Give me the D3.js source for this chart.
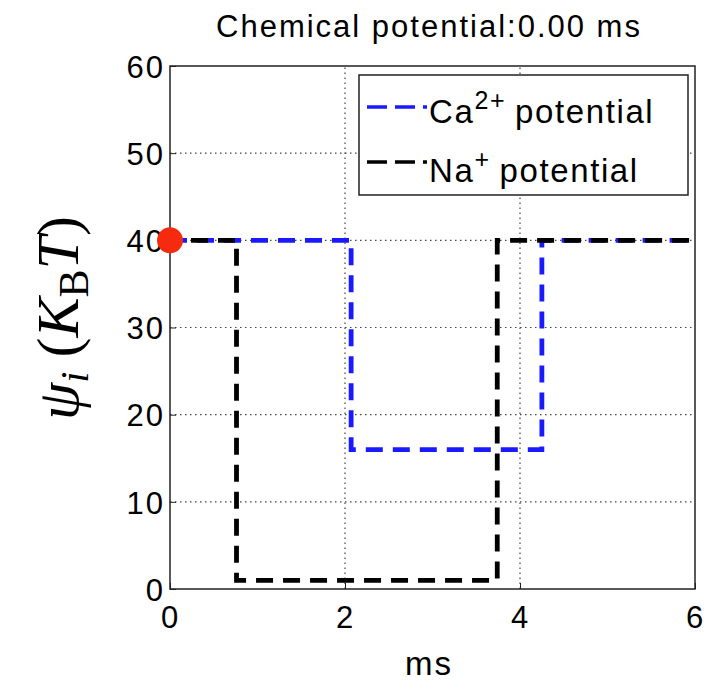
<!DOCTYPE html>
<html>
<head>
<meta charset="utf-8">
<script src="https://cdn.jsdelivr.net/npm/d3@7"></script>
<style>
  body { margin: 0; background: #fff; }
  svg text { font-family: "Liberation Sans", Arial, sans-serif; }
</style>
</head>
<body>
<div id="chart"></div>
<script>
// data
const caX = [0, 2.07, 2.07, 4.25, 4.25, 6];
const caY = [40, 40, 16, 16, 40, 40];
const naX = [0, 0.76, 0.76, 3.74, 3.74, 6];
const naY = [40, 40, 1, 1, 40, 40];
const xTicks = [0, 2, 4, 6];
const yTicks = [0, 10, 20, 30, 40, 50, 60];
const markerX = [0];
const markerY = [40];

const width = 706, height = 682;
const m = { left: 170, right: 11, top: 66, bottom: 93 };

const svg = d3.select("#chart").append("svg")
  .attr("width", width).attr("height", height);

const x = d3.scaleLinear().domain([0, 6]).range([m.left, width - m.right]);
const y = d3.scaleLinear().domain([0, 60]).range([height - m.bottom, m.top]);

// grid
svg.append("g").selectAll("line").data(xTicks.slice(1, -1)).enter().append("line")
  .attr("x1", d => x(d)).attr("x2", d => x(d))
  .attr("y1", y(0)).attr("y2", y(60))
  .attr("stroke", "#444").attr("stroke-width", 1.2).attr("stroke-dasharray", "1.5,3.5");
svg.append("g").selectAll("line").data(yTicks.slice(1, -1)).enter().append("line")
  .attr("x1", x(0)).attr("x2", x(6))
  .attr("y1", d => y(d)).attr("y2", d => y(d))
  .attr("stroke", "#444").attr("stroke-width", 1.2).attr("stroke-dasharray", "1.5,3.5");

// axes
const xAxis = svg.append("g").attr("transform", "translate(0," + y(0) + ")")
  .call(d3.axisBottom(x).tickValues(xTicks).tickFormat(d3.format("d")).tickSize(-6));
const yAxis = svg.append("g").attr("transform", "translate(" + x(0) + ",0)")
  .call(d3.axisLeft(y).tickValues(yTicks).tickFormat(d3.format("d")).tickSize(-6).tickPadding(5));
[xAxis, yAxis].forEach(a => {
  a.select(".domain").remove();
  a.selectAll("line").attr("stroke", "#222");
  a.selectAll("text").attr("font-size", 31).attr("fill", "#000")
    .attr("letter-spacing", 2)
    .style("font-family", "Liberation Sans, Arial, sans-serif");
});
xAxis.selectAll("text").attr("y", 39).attr("dy", 0);
yAxis.selectAll("text").attr("dy", "0.36em");

// box
svg.append("rect")
  .attr("x", x(0)).attr("y", y(60))
  .attr("width", x(6) - x(0)).attr("height", y(0) - y(60))
  .attr("fill", "none").attr("stroke", "#222").attr("stroke-width", 1.5);

// lines
const line = d3.line().x(d => x(d[0])).y(d => y(d[1]));
svg.append("path").datum(d3.zip(caX, caY)).attr("d", line)
  .attr("fill", "none").attr("stroke", "#1a1aff").attr("stroke-width", 4.8)
  .attr("stroke-dasharray", "17,10");
svg.append("path").datum(d3.zip(naX, naY)).attr("d", line)
  .attr("fill", "none").attr("stroke", "#000").attr("stroke-width", 4.8)
  .attr("stroke-dasharray", "17,10").attr("stroke-dashoffset", 6);

// marker
svg.append("g").selectAll("circle").data(d3.zip(markerX, markerY)).enter().append("circle")
  .attr("cx", d => x(d[0])).attr("cy", d => y(d[1])).attr("r", 13)
  .attr("fill", "#f52a0f");

// legend
const lg = svg.append("g");
lg.append("rect").attr("x", 359).attr("y", 75).attr("width", 329).attr("height", 120)
  .attr("fill", "#fff").attr("stroke", "#222").attr("stroke-width", 1.5);
const items = [
  { c: "#1a1aff", name: "Ca", sup: "2+", yy: 107, base: 123 },
  { c: "#000", name: "Na", sup: "+", yy: 162, base: 182 }
];
items.forEach(it => {
  lg.append("line").attr("x1", 367).attr("x2", 427).attr("y1", it.yy).attr("y2", it.yy)
    .attr("stroke", it.c).attr("stroke-width", 3.5).attr("stroke-dasharray", "20,8");
  const t = lg.append("text").attr("x", 429).attr("y", it.base).attr("font-size", 33)
    .attr("letter-spacing", 1.6).attr("fill", "#000");
  t.append("tspan").text(it.name);
  t.append("tspan").attr("dy", -14).attr("font-size", 25).text(it.sup);
  t.append("tspan").attr("dy", 14).attr("dx", 9).text("potential");
});

// title and labels
svg.append("text").attr("x", 429).attr("y", 37).attr("text-anchor", "middle")
  .attr("font-size", 31).attr("letter-spacing", 2).text("Chemical potential:0.00 ms");
svg.append("text").attr("x", 429).attr("y", 675).attr("text-anchor", "middle")
  .attr("font-size", 33).attr("letter-spacing", 2).text("ms");

const yl = svg.append("text")
  .attr("transform", "translate(78," + 318 + ") rotate(-90)")
  .attr("text-anchor", "middle")
  .style("font-family", "Liberation Serif, DejaVu Serif, serif")
  .attr("font-size", 60);
yl.append("tspan").attr("font-style", "italic").text("ψ");
yl.append("tspan").attr("font-style", "italic").attr("font-size", 40).attr("dy", 10).text("i");
yl.append("tspan").attr("dy", -10).attr("dx", 14).text("(");
yl.append("tspan").attr("font-style", "italic").text("K");
yl.append("tspan").attr("font-size", 42).attr("dy", 10).text("B");
yl.append("tspan").attr("font-style", "italic").attr("dy", -10).text("T");
yl.append("tspan").text(")");
</script>
</body>
</html>
